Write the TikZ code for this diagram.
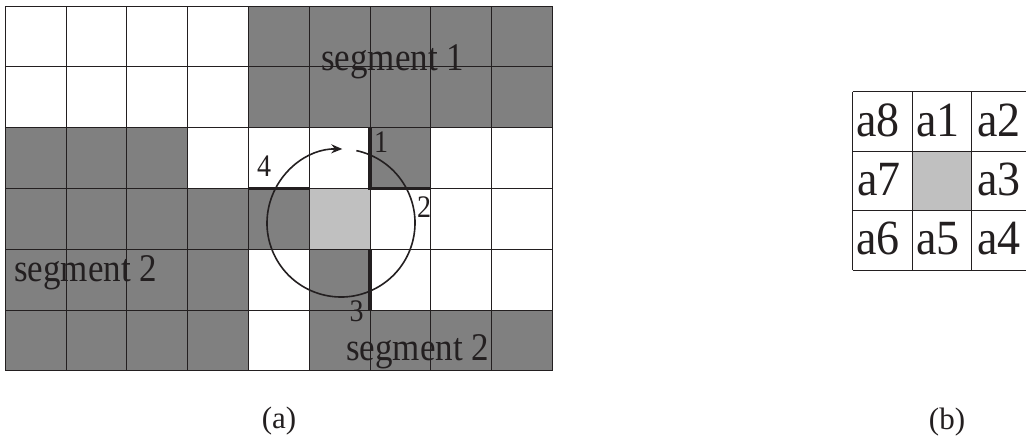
\documentclass[tikz,border=0pt]{standalone}
\usepackage{fontspec}
\setmainfont{Liberation Serif}
\usetikzlibrary{arrows.meta}
\definecolor{segGray}{RGB}{128,128,128}
\definecolor{ctrGray}{RGB}{192,192,192}
\definecolor{lineC}{RGB}{35,31,32}
\newcommand{\vst}[1]{\scalebox{1}[1.12]{#1}}
\newcommand{\vsa}[1]{\scalebox{1}[1.07]{#1}}
\tikzset{
  dk/.style={fill=segGray},
  lt/.style={fill=ctrGray},
  gridline/.style={draw=lineC, line width=1pt},
  thickline/.style={draw=lineC, line width=3.5pt},
  seglabel/.style={anchor=base west, inner sep=0pt, text=lineC, font=\fontsize{35}{40}\selectfont},
  numlabel/.style={anchor=base west, inner sep=0pt, text=lineC, font=\fontsize{28}{32}\selectfont},
  alabel/.style={anchor=base west, inner sep=0pt, text=lineC, font=\fontsize{46}{52}\selectfont},
  caplabel/.style={anchor=center, inner sep=0pt, text=lineC, font=\fontsize{31}{36}\selectfont},
  looparrow/.style={draw=lineC, line width=1.6pt, -{Stealth[length=11pt,width=9pt]}}
}
\begin{document}
\begin{tikzpicture}[x=1pt,y=-1pt]
\useasboundingbox (0,0) rectangle (1026,442);
% ---------- (a) left grid ----------
\foreach \c/\r in {4/0,5/0,6/0,7/0,8/0,
                   4/1,5/1,6/1,7/1,8/1,
                   0/2,1/2,2/2,6/2,
                   0/3,1/3,2/3,3/3,4/3,
                   0/4,1/4,2/4,3/4,5/4,
                   0/5,1/5,2/5,3/5,5/5,6/5,7/5,8/5}
  \fill[dk] ({5.3+\c*60.8},{6+\r*60.8}) rectangle +(60.8,60.8);
\fill[lt] ({5.3+5*60.8},{6+3*60.8}) rectangle +(60.8,60.8);
\foreach \i in {0,...,9}
  \draw[gridline] ({5.3+\i*60.8},6) -- ({5.3+\i*60.8},370.8);
\foreach \j in {0,...,6}
  \draw[gridline] (5.3,{6+\j*60.8}) -- (552.5,{6+\j*60.8});
% thick boundary pieces
\draw[thickline] (370.1,127.6) -- (370.1,188.4) -- (430.9,188.4);
\draw[thickline] (248.5,188.4) -- (309.3,188.4);
\draw[thickline] (370.1,249.2) -- (370.1,310);
% circular arrow
\coordinate (cc) at (341,223);
\draw[looparrow] ([shift={(-78:74)}]cc) arc[start angle=-78, end angle=271, radius=74];
% labels
\node[seglabel] (s1) at (321,70) {\vst{segment 1}};
\node[seglabel] (s2a) at (14,281.5) {\vst{segment 2}};
\node[seglabel] (s2b) at (346,360) {\vst{segment 2}};
\node[numlabel] (n1) at (374,152) {\vst{1}};
\node[numlabel] (n2) at (417,217) {\vst{2}};
\node[numlabel] (n3) at (349.5,321.5) {\vst{3}};
\node[numlabel] (n4) at (257,176.5) {\vst{4}};
% ---------- (b) right grid ----------
\fill[lt] (912.3,151) rectangle (971.9,210.3);
\foreach \xx in {852.7,912.3,971.9}
  \draw[gridline] (\xx,91.7) -- (\xx,270);
\foreach \yy in {91.7,151,210.3,270}
  \draw[gridline] (852.7,\yy) -- (1030,\yy);
\node[alabel] (a8) at (856,136) {\vsa{a8}};
\node[alabel] (a1) at (916,136) {\vsa{a1}};
\node[alabel] (a2) at (977,136) {\vsa{a2}};
\node[alabel] (a7) at (857,195) {\vsa{a7}};
\node[alabel] (a3) at (977,195) {\vsa{a3}};
\node[alabel] (a6) at (856,254.5) {\vsa{a6}};
\node[alabel] (a5) at (916,254.5) {\vsa{a5}};
\node[alabel] (a4) at (977,254.5) {\vsa{a4}};
% captions
\node[caplabel] (capa) at (279,421) {(a)};
\node[caplabel] (capb) at (947,422) {(b)};
\end{tikzpicture}
\end{document}
